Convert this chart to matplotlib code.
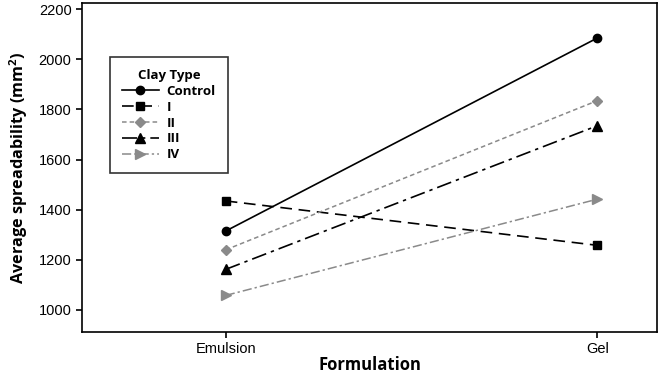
import matplotlib
matplotlib.use("Agg")
import matplotlib.pyplot as plt

categories = ["Emulsion", "Gel"]
series_names = ["Control", "I", "II", "III", "IV"]
control = [1315, 2085]
clay_I = [1435, 1258]
clay_II = [1240, 1835]
clay_III = [1162, 1735]
clay_IV = [1058, 1442]
values = [control, clay_I, clay_II, clay_III, clay_IV]

styles = [
    dict(color="black", linestyle="-", marker="o", markersize=6, lw=1.2),
    dict(color="black", linestyle=(0, (7, 4)), marker="s", markersize=6, lw=1.2),
    dict(color="#8a8a8a", linestyle=(0, (3, 2)), marker="D", markersize=5.5, lw=1.1),
    dict(color="black", linestyle=(0, (9, 3, 2, 3)), marker="^", markersize=7, lw=1.2),
    dict(color="#8a8a8a", linestyle=(0, (6, 2, 1.5, 2)), marker=">", markersize=7, lw=1.1),
]

fig = plt.figure(figsize=(6.61, 3.74), dpi=100)
ax = fig.add_axes([82/661, 1-332/374, 575/661, 329/374])

x = [1, 2]
for name, vals, st in zip(series_names, values, styles):
    ax.plot(x, vals, label=name, **st)

ax.set_xlim(0.613, 2.161)
ax.set_ylim(912, 2225)
ax.set_xticks(x)
ax.set_xticklabels(categories, fontsize=10.5, family="Liberation Sans")
ax.set_yticks([1000, 1200, 1400, 1600, 1800, 2000, 2200])
for lab in ax.get_yticklabels():
    lab.set_fontsize(10.5)
    lab.set_family("Liberation Sans")
ax.set_xlabel("Formulation", fontsize=12, fontweight="bold", family="Open Sans", labelpad=0)
ax.set_ylabel("Average spreadability (mm$^\\mathregular{2}$)", fontsize=11.7, fontweight="bold", family="Open Sans", labelpad=6)
for sp in ax.spines.values():
    sp.set_linewidth(1.2)
ax.tick_params(width=1.2, length=4)

leg = ax.legend(loc="upper left", bbox_to_anchor=((110-82)/575, 1-(57-3)/329),
                borderaxespad=0,
                title="Clay Type", frameon=True, fancybox=False, edgecolor="black",
                prop=dict(family="Open Sans", weight="bold", size=9.5),
                title_fontproperties=dict(family="Open Sans", weight="bold", size=9.5),
                handlelength=2.8, labelspacing=0.22, borderpad=0.9, handletextpad=0.6)
leg.get_frame().set_linewidth(1.2)

fig.savefig("out.png", dpi=100)
